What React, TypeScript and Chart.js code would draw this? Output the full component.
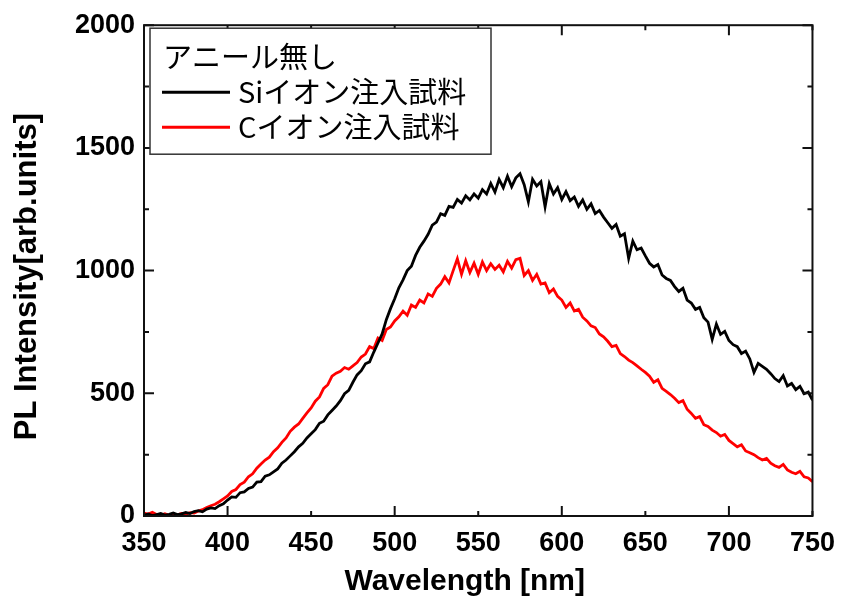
import { useEffect, useRef } from "react";
import { Chart, registerables } from "chart.js";

Chart.register(...registerables);

// Wavelength grid of the spectra (nm)
const wavelengthStart = 350;
const wavelengthStep = 2.5;

// PL intensity, Si-ion implanted sample (black)
const siIonSample = [
  3, 8, 2, 6, 10, 4, 7, 12, 6, 9,
  14, 10, 18, 22, 17, 28, 33, 30, 42, 50,
  65, 78, 76, 95, 98, 112, 118, 138, 140, 162,
  168, 180, 192, 215, 228, 245, 262, 282, 296, 318,
  335, 352, 378, 386, 412, 430, 448, 470, 498, 512,
  545, 575, 592, 620, 628, 668, 705, 742, 800, 845,
  885, 930, 962, 1000, 1018, 1062, 1095, 1120, 1148, 1185,
  1198, 1232, 1225, 1262, 1258, 1290, 1275, 1305, 1288, 1312,
  1295, 1330, 1312, 1355, 1320, 1372, 1338, 1385, 1342, 1378,
  1395, 1350, 1280, 1372, 1345, 1362, 1260, 1355, 1312, 1338,
  1290, 1322, 1285, 1300, 1262, 1288, 1250, 1272, 1232, 1245,
  1218, 1195, 1172, 1188, 1140, 1150, 1050, 1120, 1085, 1092,
  1060, 1030, 1015, 1025, 982, 968, 960, 935, 915, 928,
  880, 868, 842, 850, 808, 790, 720, 782, 740, 752,
  715, 698, 690, 662, 672, 640, 585, 622, 610, 598,
  580, 560, 548, 572, 530, 540, 515, 528, 498, 505,
  472,
];

// PL intensity, C-ion implanted sample (red)
const cIonSample = [
  12, 8, 15, 6, 4, 9, 3, 7, 5, 10,
  8, 14, 12, 20, 26, 35, 42, 48, 58, 70,
  82, 100, 108, 128, 138, 160, 172, 195, 212, 228,
  240, 262, 278, 300, 318, 345, 362, 375, 398, 420,
  440, 468, 485, 520, 535, 570, 582, 590, 605, 598,
  612, 625, 648, 660, 690, 682, 725, 715, 760, 770,
  795, 812, 835, 818, 860, 850, 880, 868, 905, 895,
  928, 945, 975, 950, 1000, 1048, 985, 1040, 992, 1030,
  985, 1035, 1000, 1028, 1005, 1022, 995, 1038, 1010, 1045,
  1050, 980, 1000, 960, 985, 945, 950, 910, 925, 895,
  880, 850, 868, 835, 842, 810, 795, 775, 768, 742,
  730, 712, 690, 695, 662, 650, 635, 625, 612, 598,
  585, 570, 545, 555, 520, 508, 495, 480, 462, 470,
  435, 418, 398, 405, 372, 365, 350, 340, 325, 332,
  308, 295, 282, 290, 265, 258, 250, 238, 228, 235,
  215, 205, 198, 210, 188, 178, 172, 182, 160, 155,
  140,
];

const seriesLabels = ["Siイオン注入試料", "Cイオン注入試料"];
const seriesColors = ["#000000", "#ff0000"];
const legendTitle = "アニール無し";
const xAxisTitle = "Wavelength [nm]";
const yAxisTitle = "PL Intensity[arb.units]";
const xRange = [350, 750];
const yRange = [0, 2000];
const xTickStep = 50;
const yTickStep = 500;

const wavelengths = siIonSample.map((_, i) => wavelengthStart + i * wavelengthStep);

const framePlugin = {
  id: "frameTicks",
  afterDatasetsDraw(chart: any) {
    const { ctx, chartArea: a, scales } = chart;
    const x = scales.x;
    const y = scales.y;
    ctx.save();
    ctx.strokeStyle = "#111";
    ctx.lineWidth = 2;
    ctx.strokeRect(a.left, a.top, a.right - a.left, a.bottom - a.top);
    ctx.beginPath();
    x.ticks.forEach((t: any) => {
      const px = x.getPixelForValue(t.value);
      const len = t.value % 100 === 0 ? 10 : 5;
      ctx.moveTo(px, a.bottom);
      ctx.lineTo(px, a.bottom - len);
      ctx.moveTo(px, a.top);
      ctx.lineTo(px, a.top + len);
    });
    const yv = y.ticks.map((t: any) => t.value);
    const drawY = (v: number, len: number) => {
      const py = y.getPixelForValue(v);
      ctx.moveTo(a.left, py);
      ctx.lineTo(a.left + len, py);
      ctx.moveTo(a.right, py);
      ctx.lineTo(a.right - len, py);
    };
    yv.forEach((v: number, i: number) => {
      drawY(v, 10);
      if (i < yv.length - 1) drawY((v + yv[i + 1]) / 2, 5);
    });
    ctx.stroke();
    ctx.restore();
  },
  afterDraw(chart: any) {
    const { ctx, chartArea: a } = chart;
    ctx.save();
    // axis titles
    ctx.fillStyle = "#000";
    ctx.textAlign = "center";
    ctx.textBaseline = "middle";
    ctx.font = 'bold 30px "Liberation Sans", Arial, sans-serif';
    ctx.fillText(xAxisTitle, (a.left + a.right) / 2 - 13.5, a.bottom + 66);
    ctx.save();
    ctx.translate(a.left - 116.5, (a.top + a.bottom) / 2 + 6);
    ctx.rotate(-Math.PI / 2);
    ctx.font = 'bold 31px "Liberation Sans", Arial, sans-serif';
    ctx.fillText(yAxisTitle, 0, 0);
    ctx.restore();

    // legend box
    const bx = a.left + 6;
    const by = a.top + 3;
    const bw = 341;
    const bh = 126;
    ctx.fillStyle = "#ffffff";
    ctx.fillRect(bx, by, bw, bh);
    ctx.strokeStyle = "#333";
    ctx.lineWidth = 1.5;
    ctx.strokeRect(bx, by, bw, bh);
    ctx.font = '29px "Noto Sans CJK JP", sans-serif';
    ctx.textAlign = "left";
    ctx.textBaseline = "middle";
    ctx.fillStyle = "#000";
    ctx.fillText(legendTitle, bx + 13, by + 29);
    chart.data.datasets.forEach((ds: any, i: number) => {
      const cy = by + 64 + i * 35;
      ctx.strokeStyle = ds.borderColor;
      ctx.lineWidth = 3;
      ctx.beginPath();
      ctx.moveTo(bx + 12, cy);
      ctx.lineTo(bx + 80, cy);
      ctx.stroke();
      ctx.fillStyle = "#000";
      ctx.fillText(ds.label, bx + 88, cy);
    });
    ctx.restore();
  },
};

export default function App() {
  const canvasRef = useRef<HTMLCanvasElement | null>(null);

  useEffect(() => {
    if (!canvasRef.current) return;
    const tickFont = { family: '"Liberation Sans", Arial, sans-serif', size: 27, weight: "bold" as const };
    const plain = (v: any) => String(v);
    const chart = new Chart(canvasRef.current, {
      type: "line",
      data: {
        datasets: [siIonSample, cIonSample].map((vals, k) => ({
          label: seriesLabels[k],
          data: vals.map((v, i) => ({ x: wavelengths[i], y: v })),
          borderColor: seriesColors[k],
          backgroundColor: seriesColors[k],
          borderWidth: 2.8,
          pointRadius: 0,
          tension: 0,
          fill: false,
        })),
      },
      options: {
        animation: false,
        responsive: false,
        events: [],
        layout: { padding: { top: 25, right: 31, left: 0, bottom: 0 } },
        plugins: { legend: { display: false }, tooltip: { enabled: false } },
        scales: {
          x: {
            type: "linear",
            min: xRange[0],
            max: xRange[1],
            grid: { display: false, drawTicks: false },
            border: { display: false },
            ticks: { stepSize: xTickStep, font: tickFont, color: "#000", padding: 11, maxRotation: 0, callback: plain },
            afterFit: (s: any) => { s.height = 84; },
          },
          y: {
            min: yRange[0],
            max: yRange[1],
            grid: { display: false, drawTicks: false },
            border: { display: false },
            ticks: { stepSize: yTickStep, font: tickFont, color: "#000", padding: 9, callback: plain },
            afterFit: (s: any) => { s.width = 144; },
          },
        },
      },
      plugins: [framePlugin],
    });
    return () => chart.destroy();
  }, []);

  return (
    <div style={{ position: "fixed", left: 0, top: 0, width: 846, height: 600, background: "#fff" }}>
      <canvas ref={canvasRef} width={846} height={600} style={{ display: "block" }} />
    </div>
  );
}
